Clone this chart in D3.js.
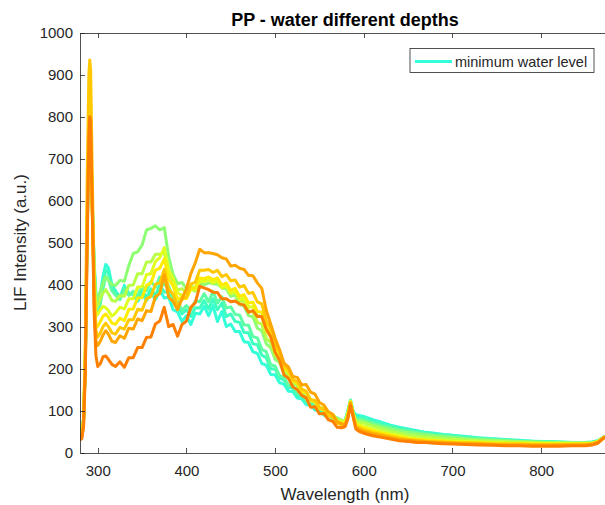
<!DOCTYPE html>
<html>
<head>
  <meta charset="utf-8">
  <title>PP - water different depths</title>
  <style>
    body { margin: 0; background: #fff; }
    text { font-family: Arial, "Liberation Sans", Helvetica, sans-serif; fill: #262626; }
    .axis path, .axis line { stroke: #262626; stroke-width: 0.8; fill: none; shape-rendering: crispEdges; }
    .axis text { font-size: 15px; }
  </style>
  <script src="https://d3js.org/d3.v7.min.js"></script>
</head>
<body>
<script>
// wavelength grid (nm)
var wavelength = [280,282,284,286,288,290,291,292,294,296,298,300,303,306,309,312,316,
  320,325,330,335,340,345,350,355,360,365,370,375,380,385,390,395,400,405,410,415,420,425,430,435,440,445,450,455,460,465,470,475,480,485,490,495,500,505,510,515,520,525,530,535,540,545,550,555,560,565,570,575,
  579,582,585,588,591,595,
  600,610,620,630,640,650,660,670,680,690,700,
  715,730,745,760,775,790,805,820,835,850,
  858,864,868,872];

// LIF intensity, one array per depth
var depth1 = [55,58,80,210,520,720,760,740,580,450,380,350,380,420,448,440,400,
  385,370,398,380,376,360,378,362,382,364,386,368,370,340,335,312,326,305,332,330,348,326,350,312,336,300,306,288,288,264,262,240,236,212,208,186,185,166,163,146,145,130,128,114,113,101,100,89,90,80,80,74,
  76,100,125,98,90,88,
  86,78,72,65,60,56,52,48,46,43,41,
  38,35,33,31,29,27,26,25,24,24,
  25,28,33,40];
var depth2 = [50,54,78,215,530,730,770,750,580,440,365,340,370,405,435,428,395,
  380,366,392,376,381,366,386,370,390,374,400,382,383,354,350,330,340,324,345,344,362,342,366,340,356,324,330,312,310,286,285,259,257,232,226,199,199,177,173,155,153,136,135,120,119,106,105,93,92,82,82,75,
  76,98,124,96,86,84,
  82,75,69,63,58,54,50,47,44,42,40,
  37,34,32,30,28,27,26,25,24,24,
  25,28,33,39];
var depth3 = [48,52,76,215,530,735,775,755,580,430,350,330,355,390,420,412,385,
  375,364,390,374,384,374,396,386,408,394,418,399,397,366,360,339,350,339,361,359,378,359,384,356,371,344,347,329,327,304,303,276,273,246,240,209,206,183,179,160,158,141,139,124,123,108,108,95,94,83,82,75,
  75,96,123,95,82,80,
  78,71,65,60,55,51,48,45,42,40,38,
  35,33,31,29,27,26,25,24,23,23,
  24,27,32,38];
var depth4 = [45,50,76,215,540,745,780,760,590,440,370,365,385,405,418,410,400,
  398,410,408,445,474,478,494,530,534,540,530,536,466,424,402,405,390,390,384,404,399,404,402,401,392,390,372,375,352,350,326,323,296,290,259,250,222,214,190,184,164,159,141,139,122,121,107,104,93,90,80,77,
  74,94,122,94,78,76,
  74,67,61,56,52,48,45,42,40,38,36,
  33,31,29,28,26,25,24,23,23,23,
  24,27,32,38];
var depth5 = [42,47,76,220,545,740,775,755,580,420,345,350,368,380,388,378,362,
  360,374,372,398,399,426,426,454,454,472,472,476,425,410,387,390,380,396,392,411,409,414,409,411,396,398,379,382,360,361,336,336,310,306,272,262,230,221,193,187,166,162,143,141,124,122,107,105,92,90,79,76,
  74,94,122,93,74,72,
  70,62,56,50,46,42,39,37,35,33,32,
  30,28,27,26,25,24,23,23,22,22,
  23,26,31,37];
var depth6 = [38,44,75,230,560,740,770,750,570,400,325,330,340,348,345,338,325,
  332,346,342,366,366,394,394,424,426,455,464,488,435,415,380,375,367,388,387,408,407,411,404,408,392,396,379,384,364,368,346,348,326,324,289,276,242,230,200,192,171,166,146,144,126,124,107,105,91,89,76,73,
  72,92,122,94,70,66,
  62,55,49,44,40,36,33,31,29,28,27,
  26,25,24,23,22,22,21,21,21,21,
  22,26,32,38];
var depth7 = [36,42,75,230,560,740,770,750,560,380,300,300,312,325,330,322,308,
  305,320,314,341,342,368,369,398,404,434,439,461,414,397,365,370,367,391,392,416,414,418,412,416,399,404,386,391,372,376,356,358,336,334,299,284,246,233,203,194,171,166,146,143,125,121,105,101,88,84,72,69,
  68,88,120,90,66,62,
  58,52,46,41,37,33,31,29,28,26,25,
  24,23,22,21,21,20,20,20,20,20,
  22,26,32,38];
var depth8 = [35,40,80,260,640,900,935,910,640,400,290,275,285,300,308,300,285,
  282,298,294,316,316,341,339,366,372,401,404,436,390,377,350,365,370,401,406,434,434,436,429,434,419,424,409,411,394,398,379,381,359,354,314,296,256,240,207,199,174,169,151,146,126,124,107,103,87,85,70,66,
  64,84,118,88,62,58,
  54,48,43,38,34,31,29,27,26,25,24,
  23,22,21,20,20,19,19,19,19,20,
  21,25,31,38];
var depth9 = [32,36,65,200,500,760,790,770,560,350,265,255,265,280,290,282,265,
  262,278,272,296,294,318,314,338,336,371,379,424,370,360,340,366,390,426,452,484,476,476,474,471,464,461,444,446,439,436,422,421,404,391,339,306,272,245,213,204,181,179,161,162,144,139,119,113,97,91,73,69,
  66,85,118,88,60,55,
  50,44,40,35,31,29,27,25,24,23,22,
  21,20,19,18,18,17,17,17,18,18,
  20,24,30,36];
var depth10 = [30,33,60,190,480,740,800,790,560,330,230,205,212,228,230,222,210,
  205,216,203,226,226,250,250,274,275,306,313,346,300,305,277,305,313,346,357,396,392,388,382,381,366,366,359,361,354,351,334,338,324,324,294,276,239,220,185,177,156,150,136,130,108,109,92,93,78,74,60,59,
  62,80,112,85,56,50,
  46,40,36,32,28,26,24,24,22,21,20,
  19,18,17,16,16,15,15,15,16,16,
  18,22,30,38];

var allSeries = [depth1,depth2,depth3,depth4,depth5,depth6,depth7,depth8,depth9,depth10];
var seriesColors = ['#33FFD8','#3DFFC0','#5CFFA3','#8CFF73','#B8FF47','#E0FF1F','#FFEB00','#FFC800','#FFA500','#FF8000'];
var legendLabels = ['minimum water level'];
var xTicks = [300,400,500,600,700,800];
var yTicks = [0,100,200,300,400,500,600,700,800,900,1000];

var width = 605, height = 505;
var svg = d3.select('body').append('svg')
  .attr('width', width).attr('height', height);

var pLeft = 80, pRight = 605, pTop = 32.7, pBottom = 452.5;

var x = d3.scaleLinear().domain([280, 872]).range([pLeft, pRight]);
var y = d3.scaleLinear().domain([0, 1000]).range([pBottom, pTop]);

svg.append('defs').append('clipPath').attr('id', 'clip')
  .append('rect').attr('x', pLeft).attr('y', pTop)
  .attr('width', pRight - pLeft).attr('height', pBottom - pTop);

// lines
var line = d3.line()
  .x(function(d, i) { return x(wavelength[i]); })
  .y(function(d) { return y(d); });

var plot = svg.append('g').attr('clip-path', 'url(#clip)');
allSeries.forEach(function(s, i) {
  plot.append('path')
    .attr('d', line(s))
    .attr('fill', 'none')
    .attr('stroke', seriesColors[i])
    .attr('stroke-width', 3)
    .attr('stroke-linejoin', 'round');
});

// axes (ticks point inward, like matlab)
svg.append('g').attr('class', 'axis')
  .attr('transform', 'translate(0,' + pBottom + ')')
  .call(d3.axisBottom(x).tickValues(xTicks).tickSizeInner(-5).tickSizeOuter(0).tickPadding(13));
svg.append('g').attr('class', 'axis')
  .attr('transform', 'translate(0,' + pTop + ')')
  .call(d3.axisTop(x).tickValues(xTicks).tickSizeInner(-5).tickSizeOuter(0).tickFormat(''));
svg.append('g').attr('class', 'axis')
  .attr('transform', 'translate(' + pLeft + ',0)')
  .call(d3.axisLeft(y).tickValues(yTicks).tickFormat(d3.format('d'))
    .tickSizeInner(-5).tickSizeOuter(0).tickPadding(7));

// title + labels
svg.append('text')
  .attr('x', 345).attr('y', 26)
  .attr('text-anchor', 'middle')
  .style('font-size', '18px').style('font-weight', 'bold')
  .style('fill', '#000')
  .text('PP - water different depths');

svg.append('text')
  .attr('x', 345).attr('y', 500)
  .attr('text-anchor', 'middle')
  .style('font-size', '17px')
  .text('Wavelength (nm)');

svg.append('text')
  .attr('transform', 'translate(26,' + ((pTop + pBottom) / 2) + ') rotate(-90)')
  .attr('text-anchor', 'middle')
  .style('font-size', '17px')
  .text('LIF Intensity (a.u.)');

// legend
var lg = svg.append('g');
lg.append('rect')
  .attr('x', 410).attr('y', 48.5).attr('width', 184).attr('height', 24)
  .attr('fill', '#fff').attr('stroke', '#262626').attr('stroke-width', 0.8);
lg.append('line')
  .attr('x1', 415).attr('x2', 452).attr('y1', 61.5).attr('y2', 61.5)
  .attr('stroke', seriesColors[0]).attr('stroke-width', 3);
lg.append('text')
  .attr('x', 455).attr('y', 66.5)
  .style('font-size', '14.5px')
  .text(legendLabels[0]);
</script>
</body>
</html>
